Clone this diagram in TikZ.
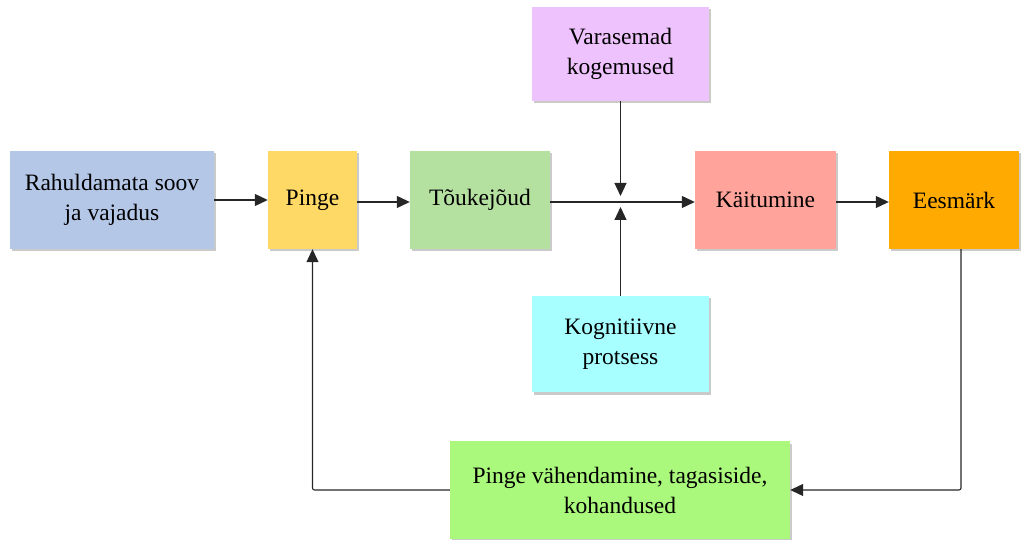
\documentclass[tikz,border=0pt]{standalone}
\usepackage{fontspec}
\setmainfont{Liberation Serif}
\usetikzlibrary{arrows.meta,shadows}
\definecolor{cblue}{HTML}{B4C7E7}
\definecolor{cyellow}{HTML}{FFD966}
\definecolor{cgreen}{HTML}{B4E0A0}
\definecolor{cred}{HTML}{FFA39B}
\definecolor{corange}{HTML}{FFAA00}
\definecolor{cpink}{HTML}{EEC2FC}
\definecolor{ccyan}{HTML}{A8FFFF}
\definecolor{clime}{HTML}{AAF87C}
\begin{document}
\begin{tikzpicture}[x=1pt,y=-1pt,
  box/.style={rectangle, inner sep=2pt, align=center, text=black,
    font=\fontsize{23.5}{30}\selectfont,
    drop shadow={shadow xshift=2pt, shadow yshift=-2.5pt, opacity=0.35, fill=black!60}},
  conn/.style={draw=black!85, line width=1.1pt, -{Triangle[length=13pt,width=12pt]}},
  line/.style={draw=black!85, line width=1.1pt}]
\useasboundingbox (0,0) rectangle (1021,540);
\node[box, fill=cblue, minimum width=204pt, minimum height=98pt] (need) at (112,200) {Rahuldamata soov\\ja vajadus};
\node[box, fill=cyellow, minimum width=89pt, minimum height=98pt] (pinge) at (312.5,200) {Pinge};
\node[box, fill=cgreen, minimum width=140pt, minimum height=98pt] (drive) at (480,200) {Tõukejõud};
\node[box, fill=cred, minimum width=141pt, minimum height=98pt] (beh) at (765.5,200) {Käitumine};
\node[box, fill=corange, minimum width=130pt, minimum height=98pt] (goal) at (954,200) {Eesmärk};
\node[box, fill=cpink, minimum width=177pt, minimum height=94pt] (prev) at (620.5,54) {Varasemad\\kogemused};
\node[box, fill=ccyan, minimum width=177pt, minimum height=96pt] (cog) at (620.5,344) {Kognitiivne\\protsess};
\node[box, fill=clime, minimum width=340pt, minimum height=98pt] (fb) at (620,490) {Pinge vähendamine, tagasiside,\\kohandused};
\coordinate (jup) at (620.5,196);
\coordinate (jdn) at (620.5,207);
\draw[conn] (need.east |- 0,200) -- (pinge.west |- 0,200);
\draw[conn] (pinge.east |- 0,202) -- (drive.west |- 0,202);
\draw[conn] (drive.east |- 0,202) -- (beh.west |- 0,202);
\draw[conn] (beh.east |- 0,202) -- (goal.west |- 0,202);
\draw[conn] (prev.south) -- (jup);
\draw[conn] (cog.north) -- (jdn);
\draw[conn, rounded corners=2pt] (goal.south -| 961,0) |- (fb.east);
\draw[conn, rounded corners=2pt] (fb.west) -| (pinge.south);
\end{tikzpicture}
\end{document}
